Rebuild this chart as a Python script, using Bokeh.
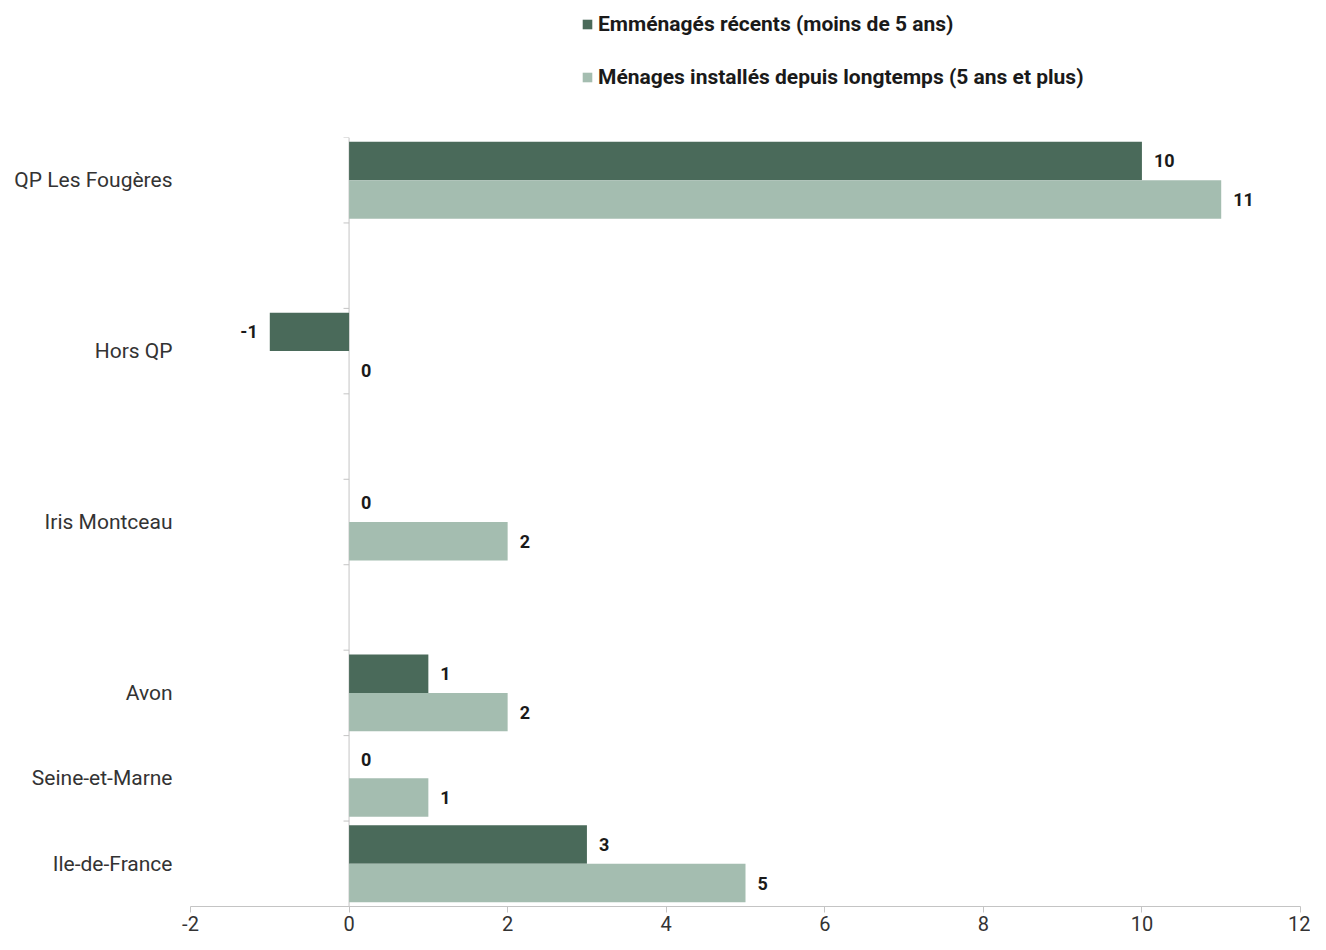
from bokeh.plotting import figure
from bokeh.layouts import column
from bokeh.models import ColumnDataSource, FactorRange, Range1d, Span, Legend, LegendItem, FixedTicker
from bokeh.transform import dodge
from bokeh.core.properties import value
from bokeh.embed import file_html
from bokeh.resources import INLINE

# ---- data ----
categories = ["QP Les Fougères", "Hors QP", "Iris Montceau", "Avon", "Seine-et-Marne", "Ile-de-France"]
recents = [10, -1, 0, 1, 0, 3]
anciens = [11, 0, 2, 2, 1, 5]
series_names = ["Emménagés récents (moins de 5 ans)",
                "Ménages installés depuis longtemps (5 ans et plus)"]
x_ticks = [-2, 0, 2, 4, 6, 8, 10, 12]

# rows of the chart, top to bottom; blank strings are empty spacer rows
slots = ["QP Les Fougères", " ", "Hors QP", "  ", "Iris Montceau", "   ",
         "Avon", "Seine-et-Marne", "Ile-de-France"]

DARK = "#4a6a5a"
LIGHT = "#a4bdb0"
AXIS = "#c4c4c4"
FONT = "Roboto"

W = 1310
LEG_H = 110
MAIN_H = 824

# ---------- legend strip ----------
lg = figure(width=W, height=LEG_H, output_backend="svg", toolbar_location=None,
            x_range=Range1d(0, 1), y_range=Range1d(0, 1),
            min_border_left=0, min_border_right=0, min_border_top=0, min_border_bottom=0)
lg.axis.visible = False
lg.grid.visible = False
lg.outline_line_color = None
# swatch carriers: one bar each, placed outside the visible range (only used for the legend)
lg1 = lg.hbar(y=[-5], left=[-5], right=[-4], height=0.5, fill_color=DARK, line_color=None)
lg2 = lg.hbar(y=[-5], left=[-5], right=[-4], height=0.5, fill_color=LIGHT, line_color=None)
legend = Legend(items=[LegendItem(label=series_names[0], renderers=[lg1]),
                       LegendItem(label=series_names[1], renderers=[lg2])],
                location=(391, 21), orientation="vertical",
                border_line_color=None, background_fill_alpha=0,
                padding=0, margin=0, spacing=29,
                glyph_width=12, glyph_height=12, label_standoff=5,
                label_text_font=FONT, label_text_font_style="bold",
                label_text_font_size="21px", label_text_color="#1a1a1a")
lg.add_layout(legend)

# ---------- main chart ----------
p = figure(width=W, height=MAIN_H, output_backend="svg", toolbar_location=None,
           y_range=FactorRange(factors=slots[::-1], range_padding=0),
           x_range=Range1d(-2, 12),
           min_border_left=190, min_border_right=10, min_border_top=27, min_border_bottom=28)
p.outline_line_color = None
p.xgrid.visible = False
p.ygrid.visible = False


def off(v):
    return -12 if v < 0 else 12


def align(v):
    return "right" if v < 0 else "left"


src = ColumnDataSource(dict(
    cat=categories,
    recents=recents,
    anciens=anciens,
    rec_lbl=[str(v) for v in recents],
    anc_lbl=[str(v) for v in anciens],
    rec_off=[off(v) for v in recents],
    anc_off=[off(v) for v in anciens],
    rec_al=[align(v) for v in recents],
    anc_al=[align(v) for v in anciens],
))

# zero line with small ticks at row boundaries
p.add_layout(Span(location=0, dimension="height", line_color=AXIS, line_width=1, level="underlay"))
bounds = list(range(len(slots) + 1))
p.segment(x0=[0] * len(bounds), x1=[-0.07] * len(bounds), y0=bounds, y1=bounds,
          line_color=AXIS, line_width=1)

r1 = p.hbar(y=dodge("cat", 0.225, range=p.y_range), left=0, right="recents", height=0.45,
            fill_color=DARK, line_color=None, source=src)
r2 = p.hbar(y=dodge("cat", -0.225, range=p.y_range), left=0, right="anciens", height=0.45,
            fill_color=LIGHT, line_color=None, source=src)

common = dict(text_baseline="middle", text_font=value(FONT), text_font_style="bold",
              text_font_size="18px", text_color="#1a1a1a", source=src)
p.text(x="recents", y=dodge("cat", 0.225, range=p.y_range), text="rec_lbl",
       x_offset="rec_off", text_align="rec_al", **common)
p.text(x="anciens", y=dodge("cat", -0.225, range=p.y_range), text="anc_lbl",
       x_offset="anc_off", text_align="anc_al", **common)

# x axis
xa = p.xaxis[0]
xa.ticker = FixedTicker(ticks=x_ticks)
xa.major_label_overrides = {t: str(t) for t in x_ticks}
xa.minor_tick_line_color = None
xa.axis_line_color = AXIS
xa.major_tick_line_color = AXIS
xa.major_tick_out = 6
xa.major_tick_in = 0
xa.major_label_standoff = 3
xa.major_label_text_font = FONT
xa.major_label_text_font_size = "20px"
xa.major_label_text_color = "#333333"

# y axis (labels only)
ya = p.yaxis[0]
ya.axis_line_color = None
ya.major_tick_line_color = None
ya.minor_tick_line_color = None
ya.major_label_standoff = 12
ya.major_label_text_font = FONT
ya.major_label_text_font_size = "21px"
ya.major_label_text_color = "#333333"

open("out.html", "w").write(file_html(column(lg, p, spacing=0), INLINE))
